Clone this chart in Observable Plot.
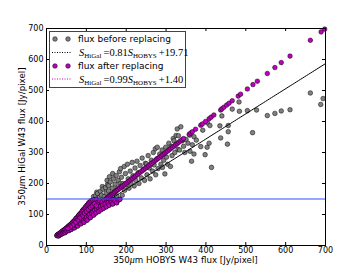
<!DOCTYPE html>
<html><head><meta charset="utf-8">
<script src="https://cdn.jsdelivr.net/npm/d3@7"></script>
<script src="https://cdn.jsdelivr.net/npm/@observablehq/plot@0.6"></script>
<style>body{margin:0;background:#fff}svg{display:block}</style>
</head><body><div id="chart"></div>
<script>
// pixels below the 150 Jy/pixel threshold (identical before and after replacing)
const lowX = [26,28,30,31,33,34,36,37,39,40,42,43,45,46,47,49,50,52,54,55,56,58,59,61,62,64,65,66,68,69,70,72,73,74,76,77,78,80,81,82,84,85,86,88,89,90,92,93,94,96,97,98,100,101,102,104,105,106,108,109,110,112,113,114,116,117,118,120,121,122,124,125,126,128,130,131,133,135,137,139,141,143,145,147,150,152,155,157,160,163,166,169,172,176,180,184,90,95,100,105,110,115,120,125,83,78,72,66,60,54];
const lowY = [32,35,31,37,34,40,36,43,38,46,40,49,44,52,42,55,47,58,50,62,48,65,54,68,52,72,58,75,62,79,57,82,65,87,68,90,63,95,72,99,76,103,70,106,80,112,84,116,75,120,88,124,92,129,82,132,97,137,101,140,90,144,105,120,146,110,98,148,114,130,105,149,118,138,122,110,145,126,116,141,130,120,147,134,125,143,138,130,147,140,134,148,143,138,147,149,95,104,110,116,123,128,135,128,88,80,74,66,60,55];
// flux before replacing, above the threshold
const beforeX = [118,123,126,128,132,135,138,140,142,145,148,150,152,153,156,156,158,160,162,165,166,168,170,172,175,176,178,180,183,185,186,186,188,190,192,195,196,198,200,203,205,207,210,212,215,217,220,222,224,227,230,232,235,238,240,243,246,248,251,252,255,258,260,263,266,268,270,273,274,277,278,280,284,287,290,291,294,297,299,301,304,307,311,312,315,318,320,322,325,328,330,331,334,337,341,344,347,350,355,359,360,364,366,370,370,376,387,392,398,403,404,408,410,414,435,437,440,454,456,456,466,483,484,504,517,527,554,573,589,611,662,688,694];
const beforeY = [158,160,172,168,155,175,162,190,182,158,187,170,210,196,176,193,222,205,165,185,232,215,172,198,226,160,185,210,238,200,248,190,220,162,200,255,178,232,195,262,215,185,240,200,268,225,192,250,210,272,235,200,258,218,282,245,210,265,263,228,290,250,215,275,240,300,260,312,228,280,317,248,295,262,308,252,275,231,317,285,262,330,255,319,290,345,338,300,355,376,310,354,308,383,338,320,300,342,330,356,304,272,325,295,351,340,319,372,293,317,395,330,387,252,386,347,418,327,367,387,440,463,433,435,364,437,419,426,434,438,492,455,474];
// flux after replacing, above the threshold
const afterX = [150,153,156,159,162,165,168,171,174,177,180,184,188,192,196,200,204,208,212,216,220,224,228,232,236,240,244,248,252,256,260,264,268,272,276,280,284,288,292,296,300,304,308,312,316,320,324,328,332,336,340,344,358,362,366,374,387,391,399,408,413,420,437,440,445,452,458,466,481,487,504,518,529,554,573,589,611,662,689,698];
const afterY = [151,154,157,160,163,166,169,172,175,178,181,185,189,193,197,201,205,209,213,217,221,225,229,233,237,241,245,249,253,257,261,265,269,273,277,281,285,289,293,297,301,305,309,313,317,321,325,329,333,337,341,345,359,363,367,375,388,392,400,409,414,421,437,441,446,453,459,467,482,488,505,519,530,555,574,590,611,662,689,698];
const xTicks = [0,100,200,300,400,500,600,700];
const yTicks = [0,100,200,300,400,500,600,700];
const fitBefore = {slope: 0.81, intercept: 19.71, x: [28, 700]};
const threshold = [150];

const before = lowX.map((x,i)=>({x, y: lowY[i]})).concat(beforeX.map((x,i)=>({x, y: beforeY[i]})));
const after = lowX.map((x,i)=>({x, y: lowY[i]})).concat(afterX.map((x,i)=>({x, y: afterY[i]})));
const lineOf = f => f.x.map(x => ({x, y: f.slope*x + f.intercept}));

const W = 361, H = 273, mL = 46, mR = 36, mT = 28, mB = 28;
const fw = W - mL - mR, fh = H - mT - mB;
const GRAY = "#808080", MAG = "#bf00bf", BLUE = "#3050ff";

const chart = Plot.plot({
  width: W, height: H,
  marginLeft: mL, marginRight: mR, marginTop: mT, marginBottom: mB,
  style: {fontFamily: "DejaVu Sans", fontSize: "8px", background: "white", overflow: "visible"},
  x: {domain: [0, 700]},
  y: {domain: [0, 700]},
  marks: [
    Plot.dot(before, {x: "x", y: "y", r: 2.3, fill: GRAY, stroke: "black", strokeWidth: 0.5}),
    Plot.line(lineOf(fitBefore), {x: "x", y: "y", stroke: "black", strokeWidth: 1, strokeDasharray: "1.5,0.8"}),
    Plot.dot(after, {x: "x", y: "y", r: 2.3, fill: MAG, stroke: "black", strokeWidth: 0.5}),
    Plot.ruleY(threshold, {stroke: BLUE, strokeWidth: 1.2}),
    Plot.tickX(xTicks, {x: d => d, insetTop: fh - 3, stroke: "black"}),
    Plot.tickX(xTicks, {x: d => d, insetBottom: fh - 3, stroke: "black"}),
    Plot.tickY(yTicks, {y: d => d, insetRight: fw - 3, stroke: "black"}),
    Plot.tickY(yTicks, {y: d => d, insetLeft: fw - 3, stroke: "black"}),
    Plot.axisX({ticks: xTicks, tickSize: 0, tickPadding: 2, label: null, fontSize: 8}),
    Plot.axisY({ticks: yTicks, tickSize: 0, tickPadding: 3, label: null, fontSize: 8}),
    Plot.frame({stroke: "black", strokeWidth: 1})
  ]
});
document.getElementById("chart").appendChild(chart);

const svg = d3.select(chart);
// axis labels
function muLabel(g, text1, text2) {
  g.append("tspan").text(text1);
  g.append("tspan").attr("font-family", "Liberation Serif").attr("font-style", "italic").attr("font-size", "10px").text("μ");
  g.append("tspan").text(text2);
}
const xl = svg.append("text").attr("x", mL + fw/2).attr("y", 263)
  .attr("text-anchor", "middle").attr("font-family", "DejaVu Sans").attr("font-size", "8.7px").attr("fill", "black");
muLabel(xl, "350", "m HOBYS W43 flux [Jy/pixel]");
const yl = svg.append("text").attr("transform", `translate(25,${mT + fh/2}) rotate(-90)`)
  .attr("text-anchor", "middle").attr("font-family", "DejaVu Sans").attr("font-size", "8.7px").attr("fill", "black");
muLabel(yl, "350", "m HiGal W43 flux [Jy/pixel]");

// legend
const lg = svg.append("g").attr("text-anchor", "start");
lg.append("rect").attr("x", 49.5).attr("y", 31.5).attr("width", 136).attr("height", 56)
  .attr("fill", "white").attr("stroke", "#444").attr("stroke-width", 1);
const rows = [39, 52.5, 66, 79];
function dots(y, color) {
  [55, 68].forEach(cx => lg.append("circle").attr("cx", cx).attr("cy", y).attr("r", 2.3)
    .attr("fill", color).attr("stroke", "black").attr("stroke-width", 0.5));
}
function dline(y, color) {
  lg.append("line").attr("x1", 52).attr("x2", 71).attr("y1", y).attr("y2", y)
    .attr("stroke", color).attr("stroke-width", 1).attr("stroke-dasharray", "1,1.5");
}
function label(y, t) {
  lg.append("text").attr("x", 78).attr("y", y).attr("dy", "0.35em").attr("text-anchor", "start")
    .attr("font-family", "DejaVu Sans").attr("font-size", "9px").text(t);
}
function eq(y, a, b) {
  const t = lg.append("text").attr("x", 79).attr("y", y).attr("dy", "0.35em").attr("text-anchor", "start")
    .attr("font-family", "Liberation Serif").attr("font-size", "10.5px");
  t.append("tspan").attr("font-style", "italic").text("S");
  t.append("tspan").attr("font-size", "7px").attr("dy", "2").text("HiGal");
  t.append("tspan").attr("dy", "-2").text("\u2009=" + a);
  t.append("tspan").attr("font-style", "italic").text("S");
  t.append("tspan").attr("font-size", "7px").attr("dy", "2").text("HOBYS");
  t.append("tspan").attr("dy", "-2").text("\u2009+" + b);
}
dots(rows[0], GRAY); label(rows[0], "flux before replacing");
dline(rows[1], "black"); eq(rows[1], "0.81", "19.71");
dots(rows[2], MAG); label(rows[2], "flux after replacing");
dline(rows[3], MAG); eq(rows[3], "0.99", "1.40");
</script>
</body></html>
